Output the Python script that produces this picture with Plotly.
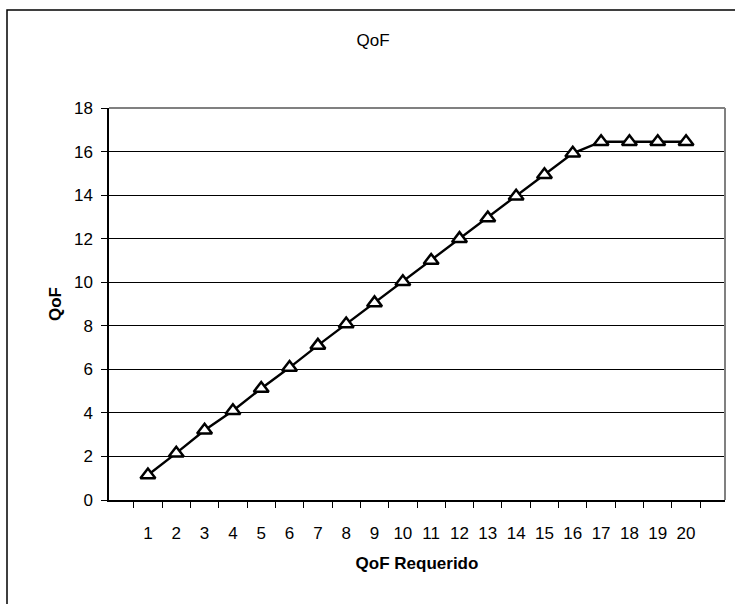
import plotly.graph_objects as go

categories = [str(i) for i in range(1, 21)]
qof_values = [1.15, 2.15, 3.2, 4.1, 5.12, 6.08, 7.1, 8.08, 9.05, 10.02,
              11.0, 12.0, 12.95, 13.95, 14.93, 15.92, 16.45, 16.45, 16.45, 16.45]
y_ticks = list(range(0, 19, 2))

FONT = "Liberation Sans, Arial, sans-serif"
FS = 17

fig = go.Figure()
fig.add_trace(go.Scatter(
    x=categories, y=qof_values, mode="lines+markers",
    line=dict(color="black", width=2.4),
    marker=dict(symbol="triangle-up", size=13, color="white",
                line=dict(color="black", width=2.5)),
    showlegend=False,
))

fig.update_layout(
    width=735, height=604,
    margin=dict(l=109, r=10, t=108, b=104),
    paper_bgcolor="white", plot_bgcolor="white",
    font=dict(family=FONT, size=FS, color="black"),
    title=dict(text="QoF", x=373 / 735, xanchor="center", y=1 - 40 / 604,
               yanchor="middle", font=dict(family=FONT, size=FS)),
    xaxis=dict(
        type="category", tickson="boundaries", ticks="outside", ticklen=6,
        tickcolor="black", showline=True, linecolor="black", linewidth=1.5,
        showgrid=False, tickfont=dict(size=FS), ticklabelstandoff=17,
        title=dict(text="<b>QoF Requerido</b>", font=dict(size=FS), standoff=15),
    ),
    yaxis=dict(
        range=[0, 18], tickvals=y_ticks, ticks="outside", ticklen=6,
        tickcolor="black", showline=True, linecolor="black", linewidth=1.5,
        showgrid=True, gridcolor="black", gridwidth=1, zeroline=False,
        tickfont=dict(size=FS), ticklabelstandoff=5,
        title=dict(text="<b>QoF</b>", font=dict(size=FS), standoff=8),
    ),
    shapes=[
        dict(type="line", xref="paper", yref="paper", x0=0, x1=1, y0=1, y1=1,
             line=dict(color="#808080", width=2)),
        dict(type="line", xref="paper", yref="paper", x0=1, x1=1, y0=0, y1=1,
             line=dict(color="#808080", width=2)),
        dict(type="rect", xref="paper", yref="paper",
             x0=-102 / 616, x1=1.2, y0=-0.5, y1=1 + 98 / 392,
             line=dict(color="black", width=1.5)),
    ],
)

fig.write_html("out.html")
